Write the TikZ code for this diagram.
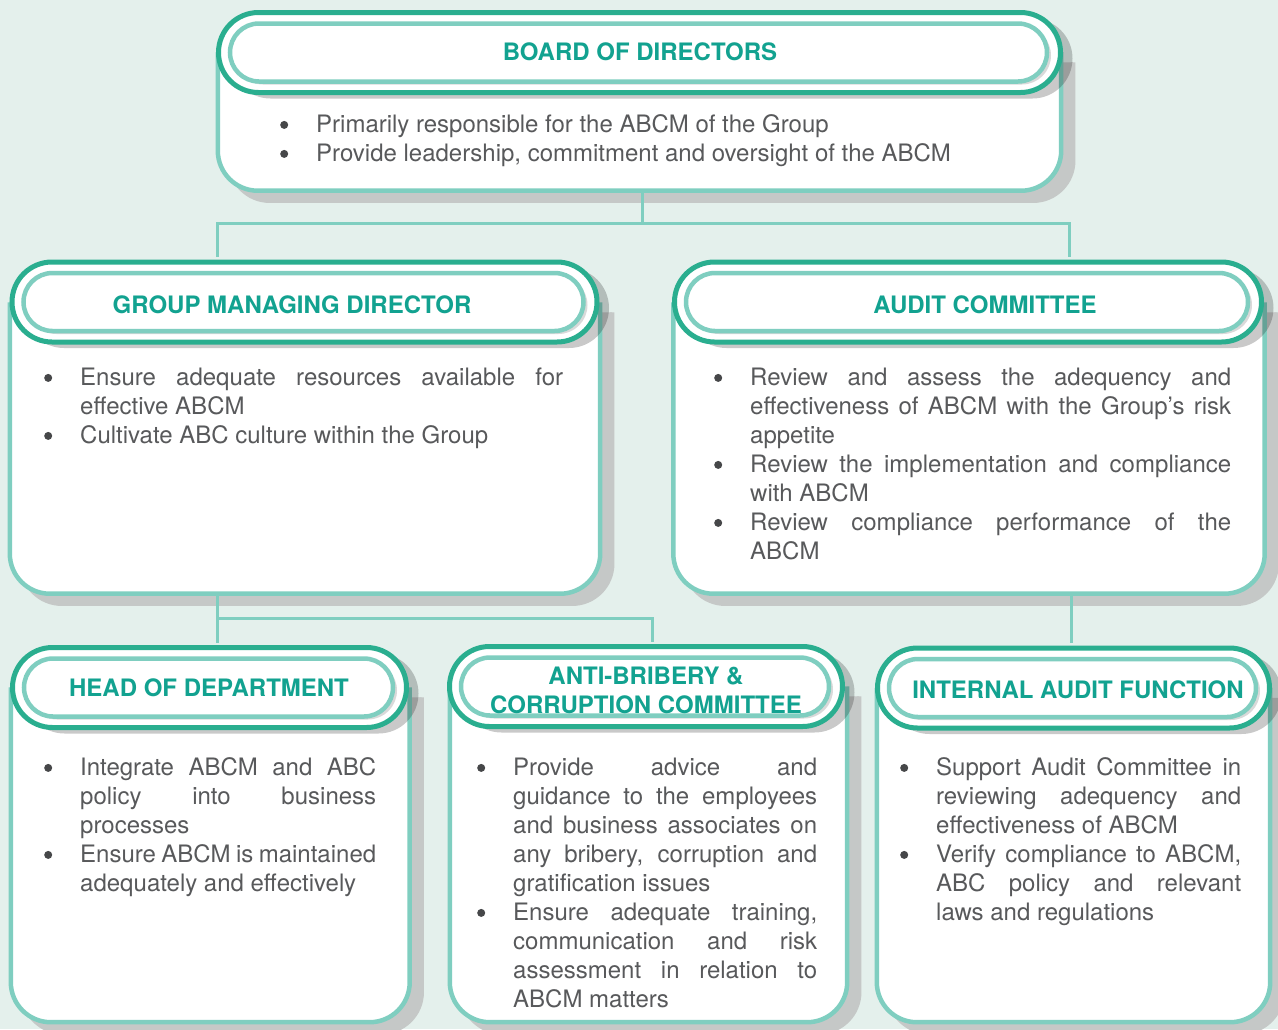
\documentclass[tikz,border=0pt]{standalone}
\usepackage{fontspec}
\setmainfont{TeX Gyre Heros}
\usetikzlibrary{shapes.misc}

\definecolor{bgmint}{HTML}{E4F0EC}
\definecolor{tealdark}{HTML}{2AAE8F}
\definecolor{teallight}{HTML}{7FCEC0}
\definecolor{tealtitle}{HTML}{12A290}
\definecolor{textgray}{HTML}{58595B}
\definecolor{shadowgray}{HTML}{C5C8C7}

\hyphenpenalty=10000
\exhyphenpenalty=10000
\tolerance=10000
\hbadness=10000

% bullet point with hanging indent
\newcommand{\bitem}[1]{\par\noindent\hangindent=36pt\hangafter=1\strut
  \makebox[36pt][l]{\tikz[baseline=-8pt]\fill[textgray!80!black] (0,0) circle (4pt);}#1\par}

\tikzset{
  ring/.style={rounded rectangle,draw=tealdark,line width=5pt,fill=white,
    minimum height=80pt,inner sep=0pt,
    preaction={fill=black,opacity=.21,transform canvas={shift={(12pt,-6pt)}}}},
  pill/.style={rounded rectangle,draw=teallight,line width=4.5pt,fill=white,
    minimum height=58pt,inner sep=0pt,
    preaction={fill=black,opacity=.15,transform canvas={shift={(4pt,-3pt)}}}},
  cardbox/.style={rectangle,inner sep=0pt},
  cardline/.style={draw=teallight,line width=4.5pt,fill=white,rounded corners=40pt,
    preaction={fill=shadowgray,draw=shadowgray,line width=4.5pt,
      transform canvas={shift={(12pt,-10pt)}}}},
  headtext/.style={inner sep=0pt,align=center,text=tealtitle,
    font=\bfseries\fontsize{24}{29}\selectfont},
  duties/.style={anchor=north west,inner sep=0pt,text width=#1,align=justify,
    text=textgray,font=\fontsize{24}{29}\selectfont},
  wire/.style={draw=teallight,line width=3pt}
}

\begin{document}
\begin{tikzpicture}[x=1pt,y=-1pt]
  \fill[bgmint] (0,0) rectangle (1278,1029);
  \useasboundingbox (0,0) rectangle (1278,1029);

  % board
  \node[cardbox,minimum width=843pt,minimum height=138pt] (boardB) at (639.5,121.5) {};
  \draw[cardline] (boardB.north west) -- (boardB.south west) -- (boardB.south east) -- (boardB.north east);
  \node[ring,minimum width=842pt] (board) at (639.5,52.5) {};
  \node[pill,minimum width=817pt] (boardP) at (638.5,52.5) {};
  \node[headtext] (boardT) at (640,52) {BOARD OF DIRECTORS};
  \node[duties=740pt] (boardL) at (280,103.7) {%
    \bitem{Primarily responsible for the ABCM of the Group}%
    \bitem{Provide leadership, commitment and oversight of the ABCM}};

  % group managing director
  \node[cardbox,minimum width=590pt,minimum height=291pt] (gmdB) at (305,448) {};
  \draw[cardline] (gmdB.north west) -- (gmdB.south west) -- (gmdB.south east) -- (gmdB.north east);
  \node[ring,minimum width=585pt] (gmd) at (304.5,302) {};
  \node[pill,minimum width=560pt] (gmdP) at (303.5,302) {};
  \node[headtext] (gmdT) at (292,305) {GROUP MANAGING DIRECTOR};
  \node[duties=519pt] (gmdL) at (44,356.7) {%
    \bitem{Ensure adequate resources available for\linebreak effective ABCM}%
    \bitem{Cultivate ABC culture within the Group}};

  % audit committee
  \node[cardbox,minimum width=591pt,minimum height=291pt] (auditB) at (969,448) {};
  \draw[cardline] (auditB.north west) -- (auditB.south west) -- (auditB.south east) -- (auditB.north east);
  \node[ring,minimum width=587pt] (audit) at (968,302) {};
  \node[pill,minimum width=562pt] (auditP) at (967,302) {};
  \node[headtext] (auditT) at (985,305) {AUDIT COMMITTEE};
  \node[duties=517pt] (auditL) at (714,356.7) {%
    \bitem{Review and assess the adequency and\linebreak effectiveness of ABCM with the Group’s risk\linebreak appetite}%
    \bitem{Review the implementation and compliance\linebreak with ABCM}%
    \bitem{Review compliance performance of the\linebreak ABCM}};

  % head of department
  \node[cardbox,minimum width=398.5pt,minimum height=334.5pt] (hodB) at (210.25,854.75) {};
  \draw[cardline] (hodB.north west) -- (hodB.south west) -- (hodB.south east) -- (hodB.north east);
  \node[ring,minimum width=394pt] (hod) at (209.5,687.5) {};
  \node[pill,minimum width=369pt] (hodP) at (208.5,687.5) {};
  \node[headtext] (hodT) at (209,688) {HEAD OF DEPARTMENT};
  \node[duties=332pt] (hodL) at (44,746.7) {%
    \bitem{Integrate ABCM and ABC\linebreak policy into business\linebreak processes}%
    \bitem{Ensure ABCM is maintained\linebreak adequately and effectively}};

  % anti-bribery and corruption committee
  \node[cardbox,minimum width=397pt,minimum height=335.5pt] (abcB) at (648.5,854.25) {};
  \draw[cardline] (abcB.north west) -- (abcB.south west) -- (abcB.south east) -- (abcB.north east);
  \node[ring,minimum width=393pt] (abc) at (646,686.5) {};
  \node[pill,minimum width=368pt] (abcP) at (645,686.5) {};
  \node[headtext] (abcT) at (646,690) {ANTI-BRIBERY \&\\CORRUPTION COMMITTEE};
  \node[duties=340pt] (abcL) at (477,746.7) {%
    \bitem{Provide advice and\linebreak guidance to the employees\linebreak and business associates on\linebreak any bribery, corruption and\linebreak gratification issues}%
    \bitem{Ensure adequate training,\linebreak communication and risk\linebreak assessment in relation to\linebreak ABCM matters}};

  % internal audit function
  \node[cardbox,minimum width=393pt,minimum height=334pt] (iafB) at (1073.5,855) {};
  \draw[cardline] (iafB.north west) -- (iafB.south west) -- (iafB.south east) -- (iafB.north east);
  \node[ring,minimum width=392pt] (iaf) at (1073.5,688) {};
  \node[pill,minimum width=367pt] (iafP) at (1072.5,688) {};
  \node[headtext] (iafT) at (1078,690) {INTERNAL AUDIT FUNCTION};
  \node[duties=341pt] (iafL) at (900,746.7) {%
    \bitem{Support Audit Committee in\linebreak reviewing adequency and\linebreak effectiveness of ABCM}%
    \bitem{Verify compliance to ABCM,\linebreak ABC policy and relevant\linebreak laws and regulations}};

  % connectors
  \draw[wire] ([xshift=3pt]boardB.south) -- ++(0,33) coordinate (fork1);
  \draw[wire,shorten <=2.5pt,shorten >=2.5pt] ([xshift=-87.5pt]gmd.north) |- (fork1) -| ([xshift=101pt]audit.north);
  \draw[wire,shorten >=2.5pt] ([xshift=-88pt]gmdB.south) -- ++(0,25) coordinate (fork2) -- ([xshift=7.5pt]hod.north);
  \draw[wire,shorten >=2.5pt] (fork2) -| ([xshift=6pt]abc.north);
  \draw[wire,shorten >=2.5pt] ([xshift=102pt]auditB.south) -- ([xshift=-2.5pt]iaf.north);
\end{tikzpicture}
\end{document}
